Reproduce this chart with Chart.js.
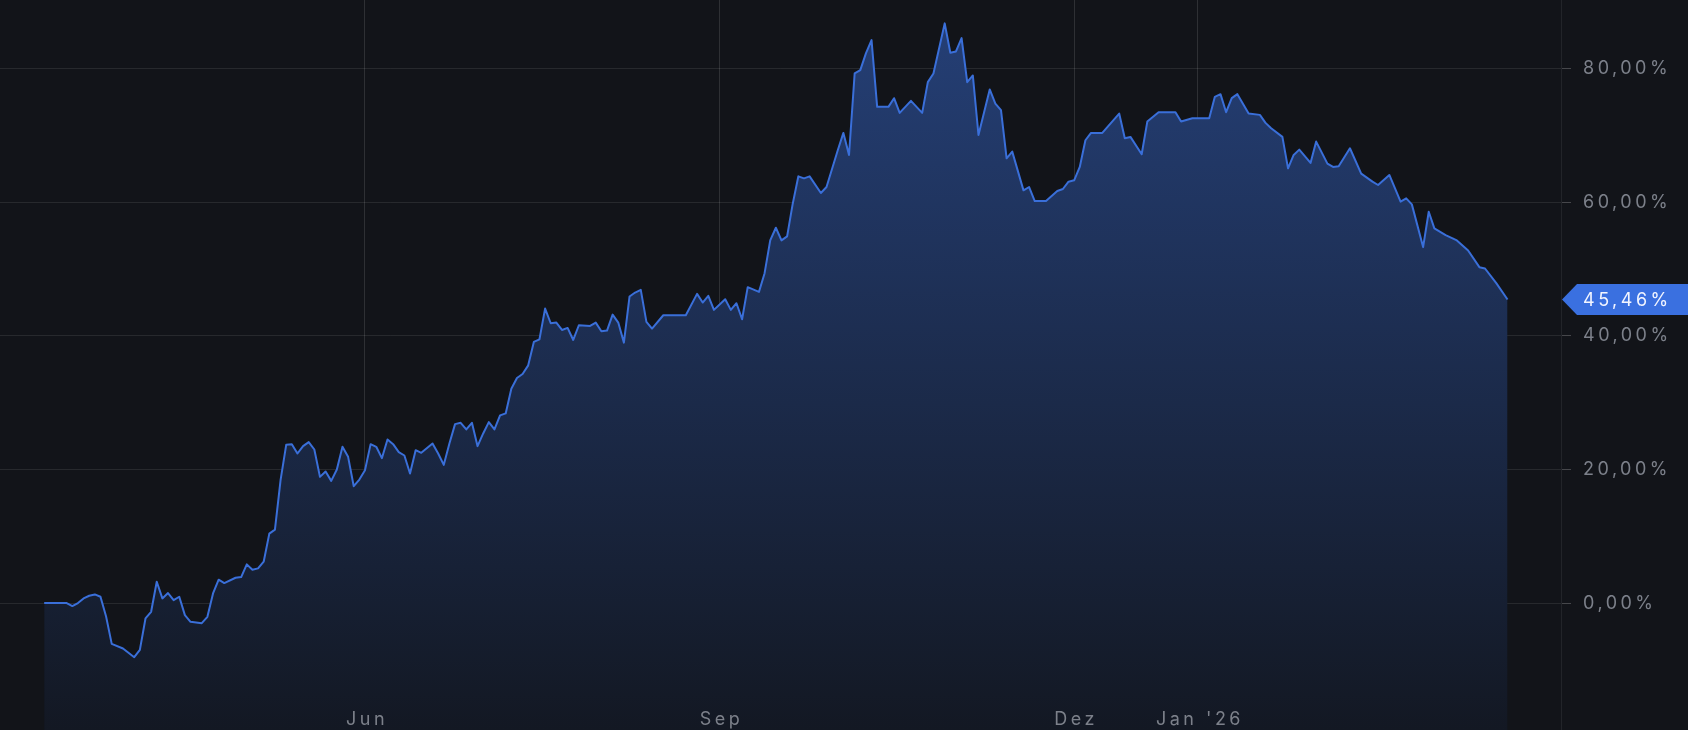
<!DOCTYPE html>
<html>
<head>
<meta charset="utf-8">
<script src="https://cdn.jsdelivr.net/npm/chart.js@4.4.1/dist/chart.umd.min.js"></script>
<style>
  html, body { margin: 0; padding: 0; background: #121419; overflow: hidden; }
</style>
</head>
<body>
<canvas id="chart" width="1688" height="730"></canvas>
<script>
// Handelstag (seit Start) und Performance in %
const sessions = [
  0, 4, 5, 6, 7, 8, 9, 10, 11, 12, 14, 16, 17, 18, 19, 20, 21, 22, 23, 24, 25, 26, 28, 29,
  30, 31, 32, 34, 35, 36, 37, 38, 39, 40, 41, 42, 43, 44, 45, 46, 47, 48, 49, 50, 51, 52,
  53, 54, 55, 56, 57, 58, 59, 60, 61, 62, 63, 64, 65, 66, 67, 69, 70, 71, 72, 73, 74, 75, 76, 77, 78, 79, 80,
  81, 82, 83, 84, 85, 86, 87, 88, 89, 90, 91, 92, 93, 94, 95, 97, 98, 99, 100, 101, 102, 103, 104, 105, 106, 107, 108, 110,
  114, 116, 117, 118, 119, 121, 122, 123, 124, 125, 127, 128, 129, 130, 131, 132, 133, 134, 135, 136, 138, 139, 141, 142, 143,
  144, 145, 146, 147, 148, 150, 151, 152, 154, 156, 157, 158, 160, 161, 162, 163, 164, 165, 166, 168, 169, 170, 171, 172,
  174, 175, 176, 178, 180, 181, 182, 183, 184, 185, 186, 188, 191, 192, 193, 195, 196, 198, 201, 202, 204, 207, 208, 209, 210, 211, 212,
  214, 216, 217, 218, 220, 221, 222, 223, 225, 226, 228, 229, 230, 232, 234, 236, 237, 239, 241, 242, 243, 245, 246, 247, 249, 251, 253, 255, 256, 258, 260
];
const returns = [
  0, 0, -0.45, 0, 0.7, 1.1, 1.3, 0.95, -2.0, -6.1, -6.8, -8.1, -7.0, -2.3, -1.3, 3.2, 0.7, 1.5, 0.45, 0.95, -1.8, -2.8, -3.0, -2.05,
  1.45, 3.5, 3.0, 3.8, 3.9, 5.8, 5.0, 5.2, 6.2, 10.4, 11.0, 18.4, 23.7, 23.8, 22.4, 23.5, 24.1, 23.0, 18.9, 19.7, 18.3, 20.0,
  23.4, 21.9, 17.5, 18.5, 19.9, 23.8, 23.4, 21.7, 24.5, 23.8, 22.6, 22.1, 19.4, 22.9, 22.5, 23.9, 22.4, 20.7, 23.9, 26.8, 27.0, 26.0, 27.0, 23.5, 25.4, 27.1, 26.0,
  28.1, 28.4, 32.1, 33.7, 34.3, 35.6, 39.1, 39.5, 44.1, 41.9, 42.0, 40.9, 41.2, 39.4, 41.6, 41.5, 42.0, 40.7, 40.8, 43.2, 42.0, 39.0, 45.9, 46.5, 46.9, 42.1, 41.1, 43.1,
  43.1, 46.3, 45.0, 46.0, 43.9, 45.5, 43.9, 44.9, 42.5, 47.3, 46.6, 49.4, 54.3, 56.2, 54.3, 54.9, 59.8, 63.9, 63.6, 63.9, 61.4, 62.3, 67.8, 70.4, 67.1,
  79.3, 79.8, 82.3, 84.3, 74.3, 74.3, 75.6, 73.4, 75.2, 73.4, 78.0, 79.3, 86.8, 82.4, 82.6, 84.6, 78.0, 79.0, 70.1, 76.9, 74.8, 73.8, 66.6, 67.6,
  61.8, 62.3, 60.2, 60.2, 61.7, 62.0, 63.1, 63.3, 65.3, 69.3, 70.4, 70.4, 73.3, 69.6, 69.8, 67.2, 72.1, 73.5, 73.5, 72.1, 72.6, 72.6, 75.8, 76.2, 73.5, 75.6, 76.2,
  73.3, 73.1, 71.9, 71.1, 69.8, 65.1, 67.1, 67.9, 65.9, 69.1, 65.8, 65.3, 65.4, 68.1, 64.3, 63.1, 62.6, 64.1, 60.1, 60.6, 59.7, 53.3, 58.6, 56.1, 55.1, 54.3, 52.8, 50.3, 50.1, 47.9, 45.46
];

// Monatsanfänge (Handelstag) und Beschriftung
const monthTicks = [57, 120, 183, 205];
const monthLabels = ["Jun", "Sep", "Dez", "Jan '26"];

// Prozentmarken rechts
const yTicks = [0, 20, 40, 60, 80];

const FONT = { family: "Inter", size: 18 };
const TEXT = "#7c808a";
const fmt = v => v.toFixed(2).replace(".", ",") + "%";

// weite Laufweite der Beschriftung
const spacing = {
  id: "spacing",
  beforeUpdate(chart) { chart.ctx.letterSpacing = "3.5px"; },
  beforeDraw(chart) { chart.ctx.letterSpacing = "3.5px"; }
};

// Monatsnamen liegen unten innerhalb der Fläche
const monthText = {
  id: "monthText",
  afterDraw(chart) {
    const ctx = chart.ctx;
    const xs = chart.scales.x;
    ctx.save();
    ctx.fillStyle = TEXT;
    ctx.font = FONT.size + "px " + FONT.family;
    ctx.textAlign = "center";
    ctx.textBaseline = "middle";
    monthTicks.forEach((v, i) => {
      ctx.fillText(monthLabels[i], xs.getPixelForValue(v) + 2, chart.chartArea.bottom - 10);
    });
    ctx.restore();
  }
};

// blaues Kursfähnchen am letzten Wert
const lastTag = {
  id: "lastTag",
  afterDraw(chart) {
    const ctx = chart.ctx;
    const yScale = chart.scales.y;
    const last = returns[returns.length - 1];
    const y = yScale.getPixelForValue(last);
    const x0 = yScale.left;
    const h = 15.5;
    ctx.save();
    ctx.fillStyle = "#3a70e0";
    ctx.beginPath();
    ctx.moveTo(x0 + 1, y);
    ctx.lineTo(x0 + 16, y - h);
    ctx.lineTo(chart.width, y - h);
    ctx.lineTo(chart.width, y + h);
    ctx.lineTo(x0 + 16, y + h);
    ctx.closePath();
    ctx.fill();
    ctx.fillStyle = "#f2f5ff";
    ctx.font = FONT.size + "px " + FONT.family;
    ctx.textBaseline = "middle";
    ctx.textAlign = "left";
    ctx.fillText(fmt(last), x0 + 22, y + 1);
    ctx.restore();
  }
};

const ctx = document.getElementById("chart").getContext("2d");
new Chart(ctx, {
  type: "line",
  data: {
    datasets: [{
      data: sessions.map((s, i) => ({ x: s, y: returns[i] })),
      borderColor: "#3a6fd9",
      borderWidth: 2,
      borderJoinStyle: "round",
      pointRadius: 0,
      tension: 0,
      fill: "start",
      backgroundColor: function (c) {
        const area = c.chart.chartArea;
        if (!area) return "rgba(0,0,0,0)";
        const g = c.chart.ctx.createLinearGradient(0, area.top, 0, area.bottom);
        g.addColorStop(0, "rgb(37,64,120)");
        g.addColorStop(1, "rgb(19,24,35)");
        return g;
      }
    }]
  },
  options: {
    responsive: false,
    devicePixelRatio: 1,
    animation: false,
    layout: { padding: 0 },
    plugins: { legend: { display: false }, tooltip: { enabled: false } },
    scales: {
      x: {
        type: "linear",
        min: -7.85,
        max: 269.5,
        z: 1,
        afterBuildTicks: s => { s.ticks = monthTicks.map(v => ({ value: v })); },
        afterFit: s => { s.height = 0; s.paddingLeft = 0; s.paddingRight = 0; },
        grid: { color: "rgba(255,255,255,0.12)", drawTicks: false },
        border: { display: false },
        ticks: { display: false, autoSkip: false }
      },
      y: {
        position: "right",
        min: -19.0,
        max: 90.3,
        z: 1,
        afterBuildTicks: s => { s.ticks = yTicks.map(v => ({ value: v })); },
        afterFit: s => { s.width = 127; s.paddingTop = 0; s.paddingBottom = 0; },
        grid: { color: "rgba(255,255,255,0.09)", tickColor: "rgba(255,255,255,0.22)", tickLength: 10 },
        border: { display: true, color: "rgba(255,255,255,0.07)" },
        ticks: { padding: 12, color: TEXT, font: FONT, callback: v => fmt(v) }
      }
    }
  },
  plugins: [spacing, monthText, lastTag]
});
</script>
</body>
</html>
